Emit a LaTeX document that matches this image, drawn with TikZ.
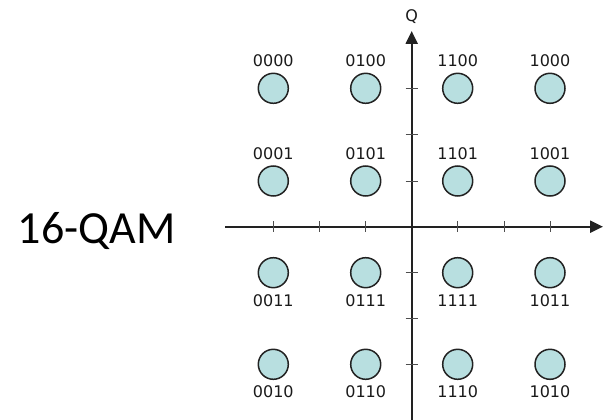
\documentclass[tikz,border=0pt]{standalone}
\usepackage{fontspec}
\setmainfont{DejaVu Sans}
\newfontfamily\qamfont{Carlito}
\usetikzlibrary{arrows.meta}
\definecolor{ptfill}{HTML}{B8DFE0}
\definecolor{ptline}{HTML}{222222}
\definecolor{lbl}{HTML}{1A1A1A}
\begin{document}
\begin{tikzpicture}[x=1pt,y=-1pt,
  pt/.style={circle,draw=ptline,fill=ptfill,line width=1.5pt,minimum size=30pt,inner sep=0pt},
  lab/.style={font=\fontsize{16}{17}\selectfont,text=lbl,inner sep=0pt},
  axis/.style={line width=2.2pt,draw=ptline,-{Triangle[length=13pt,width=12pt]}},
  tick/.style={line width=0.8pt,draw=ptline!80}]
\useasboundingbox (0,0) rectangle (603,420);
% axes
\coordinate (xs) at (225,226.7);
\coordinate (xe) at (603,226.7);
\coordinate (ys) at (411.7,420);
\coordinate (ye) at (411.7,31);
\draw[axis] (xs) -- (xe);
\draw[axis] (ys) -- (ye);
\node[lab] (Q) at (411.7,17) {Q};
% ticks
\foreach \x in {273.3,319.5,365.7,457.7,503.9,550}
  \draw[tick] (\x,221) -- (\x,232);
\foreach \y in {88.3,134.7,181,272.7,318.5,364.3}
  \draw[tick] (405.5,\y) -- (417.5,\y);
% points
\foreach \lbl/\x/\y/\d in {
  0000/273.3/88.3/-1, 0100/365.7/88.3/-1, 1100/457.7/88.3/-1, 1000/550/88.3/-1,
  0001/273.3/181/-1, 0101/365.7/181/-1, 1101/457.7/181/-1, 1001/550/181/-1,
  0011/273.3/272.7/1, 0111/365.7/272.7/1, 1111/457.7/272.7/1, 1011/550/272.7/1,
  0010/273.3/364.3/1, 0110/365.7/364.3/1, 1110/457.7/364.3/1, 1010/550/364.3/1}{
  \node[pt] (p\lbl) at (\x,\y) {};
  \node[lab] (l\lbl) at (\x,\y+\d*27.5) {\lbl};
}
\node[font=\qamfont\fontsize{46}{48}\selectfont,inner sep=0pt,anchor=base] (title) at (96.5,243) {16-QAM};
\end{tikzpicture}
\end{document}
